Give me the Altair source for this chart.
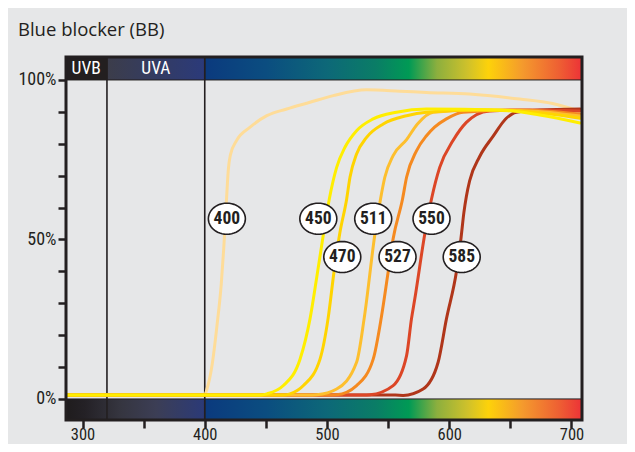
import altair as alt
import pandas as pd
import numpy as np

# ---------------- data ----------------
X_MIN, X_MAX = 286.5, 708.6
Y_MIN, Y_MAX = -6.6, 107.2

filters = ["400", "585", "550", "527", "511", "470", "450"]   # drawing order
filter_colors = {
    "400": "#FEDC98", "450": "#FFEE00", "470": "#FFD400", "511": "#FDBF2E",
    "527": "#F58A20", "550": "#DC4626", "585": "#B0361A",
}

wl_400 = [288, 396, 400.4, 401.8, 405.9, 410.0, 413.5, 415.5, 417.0, 418.3, 419.3, 421.0, 426.0, 437.1,
          450.8, 467.1, 486.1, 505.1, 532.4, 559.6, 581.4, 616.7, 657.6, 684.5, 707]
tr_400 = [1.2, 1.2, 1.6, 3.1, 10.4, 23.0, 36.0, 47.0, 57.0, 66.0, 72.0, 76.5, 81.0, 85.2,
          88.8, 90.9, 93.0, 95.1, 96.9, 96.5, 96.1, 95.6, 94.0, 92.6, 90.2]

wl_450 = [288, 445, 450.8, 464.3, 478.0, 486.1, 491.4, 497.1, 501.9, 507.9, 514.7, 524.2, 537.8,
          556.9, 581.4, 641, 674, 707]
tr_450 = [1.2, 1.2, 1.6, 4.2, 12.5, 25.1, 37.6, 51.7, 62.7, 72.6, 78.9, 84.1, 87.8,
          89.9, 90.9, 90.6, 89.0, 86.5]

wl_470 = [288, 464, 469.8, 480.7, 494.3, 501.0, 505.7, 510.5, 516.1, 518.8, 524.2, 532.4, 546.0,
          565.1, 581.4, 625, 665, 707]
tr_470 = [1.2, 1.2, 1.6, 4.2, 12.5, 25.5, 39.7, 52.0, 62.7, 69.5, 76.8, 82.0, 86.2,
          88.8, 89.9, 90.6, 90.0, 88.0]

wl_511 = [288, 485, 491.6, 507.9, 524.2, 530.5, 539.2, 543.8, 547.3, 554.1, 565.1, 574.0,
          586.8, 625, 665, 707]
tr_511 = [1.2, 1.2, 1.3, 3.1, 11.5, 25.5, 51.7, 62.7, 69.5, 76.3, 81.3, 86.2,
          89.9, 90.6, 90.3, 88.7]

wl_527 = [288, 502, 507.9, 524.2, 537.8, 544.5, 550.0, 554.1, 561.8, 565.1, 573.2, 581.4, 588.0,
          597.7, 611.3, 657.6, 707]
tr_527 = [1.2, 1.2, 1.3, 4.2, 12.5, 25.7, 39.7, 50.2, 62.7, 69.5, 77.8, 82.5, 85.2,
          87.8, 89.9, 90.6, 89.3]

wl_550 = [288, 530, 535.1, 554.1, 565.1, 569.1, 571.8, 580.0, 585.5, 592.2, 603.1, 614.0, 622.2,
          633.1, 665.7, 707]
tr_550 = [1.2, 1.2, 1.3, 4.2, 13.6, 25.1, 31.3, 51.7, 62.7, 72.6, 81.0, 86.7, 89.1,
          90.3, 90.6, 90.3]

wl_585 = [288, 556, 562.3, 578.6, 590.9, 597.7, 606.0, 609.5, 612.0, 614.0, 616.7, 624.9, 635.8,
          646.7, 654.9, 673.9, 707]
tr_585 = [1.2, 1.2, 1.1, 3.1, 11.5, 25.1, 40.2, 50.0, 58.5, 63.5, 68.4, 76.0, 82.3,
          88.0, 89.9, 90.6, 90.9]

curves = {
    "400": (wl_400, tr_400), "450": (wl_450, tr_450), "470": (wl_470, tr_470),
    "511": (wl_511, tr_511), "527": (wl_527, tr_527), "550": (wl_550, tr_550),
    "585": (wl_585, tr_585),
}

label_names = ["400", "450", "511", "550", "470", "527", "585"]
label_x = [418.1, 492.9, 537.8, 585.5, 512.5, 557.7, 610.2]
label_y = [56.5, 56.5, 56.5, 56.5, 44.5, 44.5, 44.5]

band_names = ["UVB", "UVA"]
band_x = [303, 360]
band_y = [103.4, 103.4]
boundaries = [320, 400]

vis_wl = [400, 450, 500, 540, 567, 590, 615, 632, 660, 690, X_MAX]
vis_col = ["#0B3A7E", "#0B4D80", "#0D6878", "#0A7D66", "#009A55", "#8CAF3E",
           "#CFC12B", "#FDD20A", "#F49A2D", "#EE5F33", "#EC3237"]
uva_wl = [320, 400]
uva_col = ["#3C3D4A", "#2B3A7A"]
uvbot_wl = [X_MIN, 302, 330, 360, 400]
uvbot_col = ["#1F1C1D", "#242126", "#35353F", "#3C3E55", "#2B3A78"]

y_ticks = [0, 10, 20, 30, 40, 50, 60, 70, 80, 90, 100]
x_ticks = [300, 350, 400, 450, 500, 550, 600, 650, 700]

# ---------------- helpers ----------------
INK = "#231F20"
FONT_N = "Liberation Sans Narrow, Roboto Condensed, DejaVu Sans Condensed, sans-serif"

x_scale = alt.Scale(domain=[X_MIN, X_MAX], nice=False, zero=False)
y_scale = alt.Scale(domain=[Y_MIN, Y_MAX], nice=False, zero=False)
x_axis = alt.Axis(values=x_ticks, labelExpr="datum.value % 100 == 0 ? datum.label : ''",
                  title=None, domain=False, grid=False, tickColor=INK, tickWidth=2.5,
                  tickSize=8, labelPadding=-2, labelFont=FONT_N, labelFontSize=16.5,
                  labelColor=INK, format="d")
y_axis = alt.Axis(values=y_ticks, labelExpr="datum.value % 50 == 0 ? datum.value + '%' : ''",
                  title=None, domain=False, grid=False, tickColor=INK, tickWidth=2.5,
                  tickSize=8, labelPadding=2, labelFont=FONT_N, labelFontSize=18,
                  labelColor=INK)


def X(f):
    return alt.X(f, type="quantitative", scale=x_scale, axis=x_axis)


def Y(f):
    return alt.Y(f, type="quantitative", scale=y_scale, axis=y_axis)


def grad(wls, cols, lo, hi):
    return alt.LinearGradient(
        gradient="linear", x1=0, x2=1, y1=0, y2=0,
        stops=[alt.GradientStop(offset=float((w - lo) / (hi - lo)), color=c) for w, c in zip(wls, cols)])


def band(x0, x1, y0, y1, fill):
    df = pd.DataFrame({"x0": [x0], "x1": [x1], "y0": [y0], "y1": [y1]})
    return alt.Chart(df).mark_rect(fill=fill, stroke=INK, strokeWidth=1).encode(
        x=X("x0"), x2="x1", y=Y("y0"), y2="y1")


layers = []
# spectrum bars
layers.append(band(X_MIN, 320, 100, Y_MAX, INK))
layers.append(band(320, 400, 100, Y_MAX, grad(uva_wl, uva_col, 320, 400)))
layers.append(band(400, X_MAX, 100, Y_MAX, grad(vis_wl, vis_col, 400, X_MAX)))
layers.append(band(X_MIN, 400, Y_MIN, 0, grad(uvbot_wl, uvbot_col, X_MIN, 400)))
layers.append(band(400, X_MAX, Y_MIN, 0, grad(vis_wl, vis_col, 400, X_MAX)))

# boundaries
bdf = pd.DataFrame({"x": boundaries, "y0": [Y_MIN] * 2, "y1": [Y_MAX] * 2})
layers.append(alt.Chart(bdf).mark_rule(color=INK, strokeWidth=1.6).encode(
    x=X("x"), y=Y("y0"), y2="y1"))

# band labels
tdf = pd.DataFrame({"x": band_x, "y": band_y, "t": band_names})
layers.append(alt.Chart(tdf).mark_text(color="white", font=FONT_N, fontSize=17.5).encode(
    x=X("x"), y=Y("y"), text="t"))

# curves
for name in filters:
    wl, tr = curves[name]
    df = pd.DataFrame({"wl": wl, "tr": tr})
    layers.append(alt.Chart(df).mark_line(
        color=filter_colors[name], strokeWidth=3, interpolate="monotone",
        strokeCap="round", strokeJoin="round", clip=True).encode(x=X("wl"), y=Y("tr")))

# ellipse labels
t = np.linspace(0, 2 * np.pi, 49)[:-1]
ell = "M" + "L".join(f"{np.cos(a):.4f},{0.84 * np.sin(a):.4f}" for a in t) + "Z"
ldf = pd.DataFrame({"x": label_x, "y": label_y, "t": label_names})
layers.append(alt.Chart(ldf).mark_point(
    shape=ell, size=37 * 37, filled=True, fill="white", stroke=INK, strokeWidth=1.6,
    opacity=1).encode(x=X("x"), y=Y("y")))
layers.append(alt.Chart(ldf).mark_text(
    font=FONT_N, fontSize=17.5, fontWeight="bold", color=INK).encode(
    x=X("x"), y=Y("y"), text="t"))

# frame
fdf = pd.DataFrame({"x0": [X_MIN], "x1": [X_MAX], "y0": [Y_MIN], "y1": [Y_MAX]})
layers.append(alt.Chart(fdf).mark_rect(fillOpacity=0, stroke=INK, strokeWidth=3).encode(
    x=X("x0"), x2="x1", y=Y("y0"), y2="y1"))

chart = alt.layer(*layers).properties(
    width=516, height=363,
    autosize=alt.AutoSizeParams(type="none"),
    padding={"left": 58, "top": 49, "right": 45, "bottom": 24},
    background="#E6E7E8",
    title=alt.TitleParams("Blue blocker (BB)", anchor="start", frame="group", dx=-48,
                          offset=16, fontSize=18.5, font="Open Sans", fontWeight="normal",
                          color=INK),
).configure_view(stroke=None)

chart.save("out.html", embed_options={"renderer": "svg", "actions": False})
